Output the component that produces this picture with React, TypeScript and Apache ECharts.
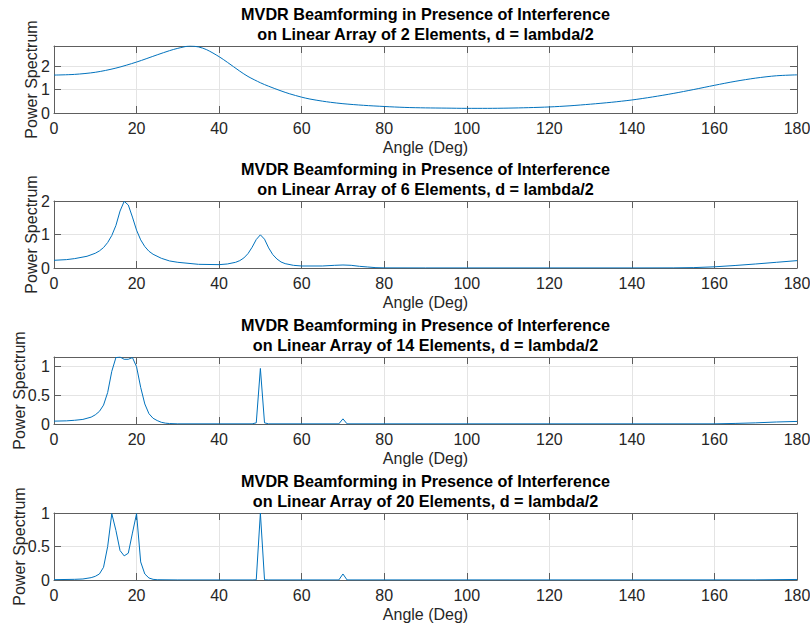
import { useEffect, useRef } from 'react';
import * as echarts from 'echarts';

// Array sizes shown in each panel
const elementCounts = [2, 6, 14, 20];

// MVDR power spectrum, 2 elements
const angles2 = [0, 5, 10, 15, 20, 25, 28, 30, 33, 35, 37, 40, 42, 45, 47, 50, 52, 55, 57, 60, 62, 65, 67, 70, 75, 80, 85, 90, 95, 100, 105, 110, 115, 120, 125, 130, 135, 140, 145, 150, 155, 160, 165, 170, 175, 180];
const power2 = [1.63, 1.66, 1.75, 1.93, 2.19, 2.5, 2.68, 2.78, 2.88, 2.84, 2.72, 2.42, 2.18, 1.8, 1.57, 1.3, 1.15, 0.95, 0.83, 0.68, 0.6, 0.51, 0.46, 0.4, 0.33, 0.28, 0.24, 0.22, 0.21, 0.2, 0.2, 0.21, 0.23, 0.26, 0.31, 0.38, 0.46, 0.56, 0.69, 0.84, 1.01, 1.19, 1.36, 1.5, 1.6, 1.64];

// MVDR power spectrum, 6 elements
const angles6 = [0, 3, 5, 8, 10, 11, 12, 13, 14, 15, 16, 17, 18, 19, 20, 21, 22, 23, 24, 26, 28, 30, 35, 40, 42, 44, 45, 46, 47, 48, 49, 50, 51, 52, 53, 54, 55, 56, 58, 60, 65, 68, 70, 72, 74, 76, 78, 80, 90, 100, 120, 140, 150, 155, 160, 165, 170, 175, 180];
const power6 = [0.23, 0.25, 0.28, 0.35, 0.44, 0.51, 0.61, 0.76, 0.97, 1.27, 1.7, 1.99, 1.88, 1.52, 1.13, 0.84, 0.64, 0.5, 0.41, 0.29, 0.21, 0.17, 0.11, 0.1, 0.12, 0.17, 0.22, 0.3, 0.43, 0.62, 0.85, 0.99, 0.86, 0.6, 0.4, 0.27, 0.18, 0.13, 0.08, 0.06, 0.06, 0.08, 0.09, 0.08, 0.05, 0.03, 0.01, 0.004, 0.002, 0.002, 0.002, 0.002, 0.004, 0.012, 0.035, 0.075, 0.12, 0.17, 0.22];

// MVDR power spectrum, 14 elements
const angles14 = [0, 3, 5, 7, 8, 9, 10, 11, 12, 13, 14, 15, 16, 17, 18, 19, 20, 21, 22, 23, 24, 25, 26, 27, 28, 30, 48, 49, 50, 51, 52, 69, 70, 71, 160, 165, 170, 175, 180];
const power14 = [0.05, 0.055, 0.065, 0.08, 0.1, 0.12, 0.16, 0.22, 0.33, 0.55, 0.92, 1.16, 1.17, 1.13, 1.13, 1.16, 1.0, 0.64, 0.35, 0.18, 0.1, 0.06, 0.03, 0.015, 0.008, 0.003, 0.003, 0.02, 0.97, 0.02, 0.003, 0.003, 0.09, 0.003, 0.003, 0.01, 0.02, 0.035, 0.045];

// MVDR power spectrum, 20 elements
const angles20 = [0, 5, 7, 8, 9, 10, 11, 12, 13, 14, 15, 16, 17, 18, 19, 20, 21, 22, 23, 24, 25, 30, 48, 49, 50, 51, 52, 69, 70, 71, 170, 180];
const power20 = [0.005, 0.01, 0.015, 0.025, 0.035, 0.055, 0.09, 0.19, 0.5, 0.99, 0.74, 0.44, 0.36, 0.4, 0.7, 0.99, 0.27, 0.09, 0.03, 0.01, 0.004, 0.001, 0.001, 0.003, 1.0, 0.003, 0.001, 0.001, 0.09, 0.001, 0.002, 0.008];

// Y-axis ranges and tick steps per panel
const yMaxima = [2.88, 2, 1.17, 1];
const ySteps = [1, 1, 0.5, 0.5];

const panels = [
  { angles: angles2, power: power2 },
  { angles: angles6, power: power6 },
  { angles: angles14, power: power14 },
  { angles: angles20, power: power20 },
];

const FONT = "'Liberation Sans', Arial, Helvetica, sans-serif";
const AXIS_COLOR = '#5e5e5e';
const LABEL_COLOR = '#262626';
const GRID_COLOR = '#e4e4e4';
const LINE_COLOR = '#0072BD';

const PLOT_LEFT = 54;
const PLOT_RIGHT = 13;
const PLOT_TOPS = [46, 201, 357, 513];
const PLOT_HEIGHT = 67;

function buildOption() {
  const grid: any[] = [];
  const xAxis: any[] = [];
  const yAxis: any[] = [];
  const series: any[] = [];
  const title: any[] = [];

  panels.forEach((p, i) => {
    const top = PLOT_TOPS[i];
    grid.push({
      left: PLOT_LEFT,
      right: PLOT_RIGHT,
      top,
      height: PLOT_HEIGHT,
      show: false,
      containLabel: false,
      outerBoundsMode: 'none',
    });

    const tickStyle = { show: true, inside: true, length: 7, lineStyle: { color: AXIS_COLOR, width: 1 } };
    const lineStyle = { show: true, onZero: false, lineStyle: { color: AXIS_COLOR, width: 1 } };

    xAxis.push({
      gridIndex: i,
      type: 'value',
      position: 'bottom',
      min: 0,
      max: 180,
      interval: 20,
      name: 'Angle (Deg)',
      nameLocation: 'middle',
      nameGap: 26,
      nameMoveOverlap: false,
      nameTextStyle: { fontSize: 16, color: LABEL_COLOR, fontFamily: FONT },
      axisLine: lineStyle,
      axisTick: tickStyle,
      axisLabel: { fontSize: 16, color: LABEL_COLOR, fontFamily: FONT, margin: 7 },
      splitLine: { show: true, lineStyle: { color: GRID_COLOR, width: 1 } },
    });
    xAxis.push({
      gridIndex: i,
      type: 'value',
      position: 'top',
      min: 0,
      max: 180,
      interval: 20,
      axisLine: lineStyle,
      axisTick: tickStyle,
      axisLabel: { show: false },
      splitLine: { show: false },
    });

    const wideLabels = ySteps[i] < 1;
    yAxis.push({
      gridIndex: i,
      type: 'value',
      position: 'left',
      min: 0,
      max: yMaxima[i],
      interval: ySteps[i],
      name: 'Power Spectrum',
      nameLocation: 'middle',
      nameGap: wideLabels ? 27 : 15,
      nameMoveOverlap: false,
      nameTextStyle: { fontSize: 16, color: LABEL_COLOR, fontFamily: FONT },
      axisLine: lineStyle,
      axisTick: tickStyle,
      axisLabel: {
        fontSize: 16,
        color: LABEL_COLOR,
        fontFamily: FONT,
        margin: 4,
        showMaxLabel: yMaxima[i] % ySteps[i] === 0,
      },
      splitLine: { show: true, lineStyle: { color: GRID_COLOR, width: 1 } },
    });
    yAxis.push({
      gridIndex: i,
      type: 'value',
      position: 'right',
      min: 0,
      max: yMaxima[i],
      interval: ySteps[i],
      axisLine: lineStyle,
      axisTick: tickStyle,
      axisLabel: { show: false },
      splitLine: { show: false },
    });

    series.push({
      type: 'line',
      xAxisIndex: 2 * i,
      yAxisIndex: 2 * i,
      data: p.angles.map((a, k) => [a, p.power[k]]),
      showSymbol: false,
      smooth: i === 0 ? 0.3 : false,
      lineStyle: { color: LINE_COLOR, width: 1 },
      itemStyle: { color: LINE_COLOR },
      z: 3,
    });

    title.push({
      text:
        'MVDR Beamforming in Presence of Interference\non Linear Array of ' +
        elementCounts[i] +
        ' Elements, d = lambda/2',
      left: PLOT_LEFT + (810 - PLOT_LEFT - PLOT_RIGHT) / 2,
      top: top - 42,
      padding: 0,
      textAlign: 'center',
      textStyle: { fontSize: 16.2, fontWeight: 'bold', color: '#000', fontFamily: FONT, lineHeight: 20 },
    });
  });

  return { animation: false, backgroundColor: '#fff', title, grid, xAxis, yAxis, series };
}

export default function App() {
  const ref = useRef<HTMLDivElement>(null);

  useEffect(() => {
    if (!ref.current) return;
    const chart = echarts.init(ref.current, undefined, { renderer: 'svg' });
    chart.setOption(buildOption());
    return () => chart.dispose();
  }, []);

  return (
    <div
      ref={ref}
      style={{ position: 'fixed', left: 0, top: 0, width: 810, height: 627, background: '#fff' }}
    />
  );
}
